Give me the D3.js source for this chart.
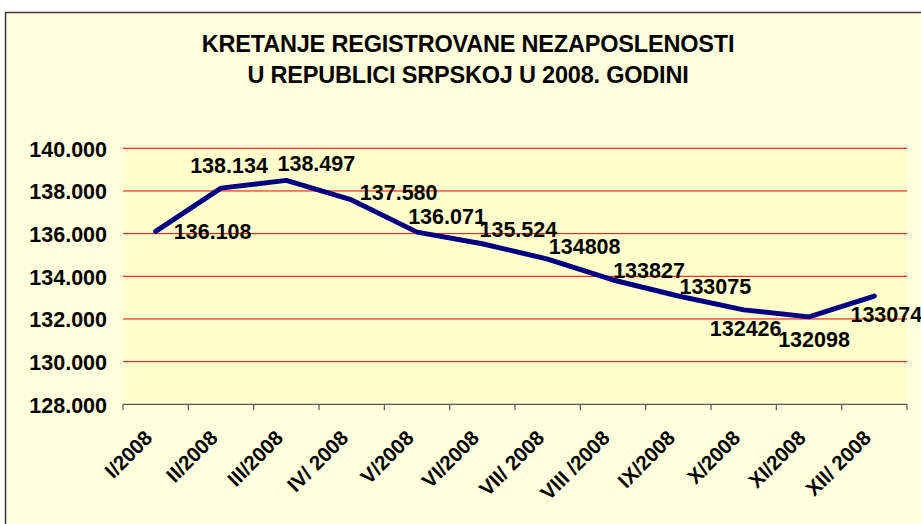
<!DOCTYPE html>
<html>
<head>
<meta charset="utf-8">
<script src="https://cdn.jsdelivr.net/npm/d3@7/dist/d3.min.js"></script>
<style>
  html, body { margin: 0; padding: 0; background: #ffffff; }
  svg { display: block; }
  text { font-family: "Liberation Sans", Arial, Helvetica, sans-serif; font-weight: bold; fill: #000; }
</style>
</head>
<body>
<svg id="chart" width="921" height="524"></svg>
<script>
// ---- data ----
const titleLines = ["KRETANJE REGISTROVANE NEZAPOSLENOSTI", "U REPUBLICI SRPSKOJ U 2008. GODINI"];
const categories = ["I/2008", "II/2008", "III/2008", "IV/ 2008", "V/2008", "VI/2008",
                    "VII/ 2008", "VIII /2008", "IX/2008", "X/2008", "XI/2008", "XII/ 2008"];
const values = [136108, 138134, 138497, 137580, 136071, 135524, 134808, 133827, 133075, 132426, 132098, 133074];
const valueLabels = ["136.108", "138.134", "138.497", "137.580", "136.071", "135.524",
                     "134808", "133827", "133075", "132426", "132098", "133074"];
const yTicks = [128000, 130000, 132000, 134000, 136000, 138000, 140000];

// label placement offsets (layout, not data): centre of label relative to point
const labelDx = [57, 8, 30, 47, 30, 36, 37, 36, 37, 2, 5, 12];
const labelDy = [0, -22.6, -17, -7.4, -16, -14.6, -13.3, -10, -10.2, 18.3, 22, 18];

// ---- layout ----
const svg = d3.select("#chart");
const plot = { left: 123, right: 907, top: 148.3, bottom: 404.3 };

const x = d3.scaleBand().domain(categories).range([plot.left, plot.right]);
const y = d3.scaleLinear().domain([128000, 140000]).range([plot.bottom, plot.top]);
const fmt = d3.formatLocale({ decimal: ",", thousands: ".", grouping: [3], currency: ["", ""] }).format(",");

// chart area
svg.append("rect").attr("x", 5.5).attr("y", 12.5).attr("width", 1000).attr("height", 1000)
  .attr("fill", "#FFFFDD").attr("stroke", "#3a3a3a").attr("stroke-width", 1.5);

// plot area
svg.append("rect").attr("x", plot.left).attr("y", plot.top)
  .attr("width", plot.right - plot.left).attr("height", plot.bottom - plot.top)
  .attr("fill", "#FFFFCC");

// title
svg.append("g").selectAll("text").data(titleLines).join("text")
  .attr("x", 468).attr("y", (d, i) => 52 + i * 31)
  .attr("text-anchor", "middle").style("font-size", "23.5px").attr("letter-spacing", "-0.2")
  .text(d => d);

// gridlines
svg.append("g").selectAll("line").data(yTicks.filter(t => t > 128000)).join("line")
  .attr("x1", plot.left).attr("x2", plot.right)
  .attr("y1", d => y(d)).attr("y2", d => y(d))
  .attr("stroke", "#FF0000").attr("stroke-width", 1);

// y axis labels
const yAxis = d3.axisLeft(y).tickValues(yTicks).tickFormat(fmt).tickSize(0).tickPadding(16);
const gy = svg.append("g").attr("transform", `translate(${plot.left},0)`).call(yAxis);
gy.select(".domain").remove();
gy.selectAll("text").style("font-size", "21.5px").style("font-family", null).attr("fill", "#000")
  .attr("dy", "0.36em");

// x axis
const xTicksPos = categories.map(c => x(c)).concat([plot.right]);
const gx = svg.append("g");
gx.append("line").attr("x1", plot.left).attr("x2", plot.right)
  .attr("y1", plot.bottom).attr("y2", plot.bottom).attr("stroke", "#555").attr("stroke-width", 1.2);
gx.selectAll("line.tick").data(xTicksPos).join("line").attr("class", "tick")
  .attr("x1", d => d).attr("x2", d => d).attr("y1", plot.bottom).attr("y2", plot.bottom + 6)
  .attr("stroke", "#555").attr("stroke-width", 1.2);
gx.selectAll("text").data(categories).join("text")
  .attr("text-anchor", "end")
  .attr("transform", d => `translate(${x(d) + x.bandwidth() / 2 - 2},${plot.bottom + 35}) rotate(-45)`)
  .style("font-size", "20.5px")
  .text(d => d);

// line
const cx = d => x(d) + x.bandwidth() / 2;
const line = d3.line().x((d, i) => cx(categories[i])).y(d => y(d));
svg.append("path").datum(values).attr("d", line)
  .attr("fill", "none").attr("stroke", "#000080").attr("stroke-width", 5)
  .attr("stroke-linejoin", "round").attr("stroke-linecap", "round");

// data labels
svg.append("g").selectAll("text").data(values).join("text")
  .attr("x", (d, i) => cx(categories[i]) + labelDx[i])
  .attr("y", (d, i) => y(d) + labelDy[i])
  .attr("dy", "0.36em").attr("text-anchor", "middle")
  .style("font-size", "21.5px")
  .text((d, i) => valueLabels[i]);
</script>
</body>
</html>
